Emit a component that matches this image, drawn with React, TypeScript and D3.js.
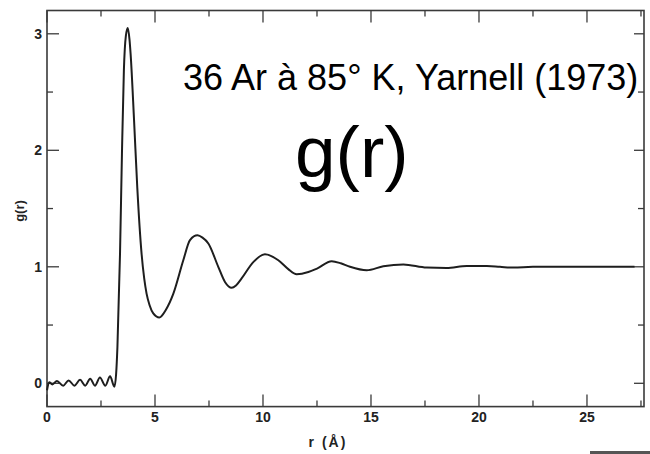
import React from "react";
import * as d3 from "d3";

// r (Å) values
const rValues = [
  0.0, 0.1, 0.25, 0.46, 0.75, 1.0, 1.27, 1.53, 1.77, 2.0, 2.22, 2.45, 2.7, 2.92, 3.12,
  3.2, 3.26, 3.38, 3.47, 3.56, 3.65, 3.74, 3.82, 3.87, 4.03, 4.18, 4.38, 4.5, 4.61, 4.75,
  4.92, 5.2, 5.5, 5.85, 6.31, 6.62, 6.97, 7.2, 7.47, 7.93, 8.24, 8.55, 8.75, 9.01, 9.55,
  10.09, 10.71, 11.17, 11.56, 12.1, 12.5, 13.18, 13.6, 14.03, 14.8, 15.57, 16.5, 17.58,
  18.5, 19.43, 20.36, 20.97, 21.6, 22.5, 24.0, 25.5, 27.2,
];
// g(r) values
const gValues = [
  -0.06, 0.01, -0.01, 0.02, -0.02, 0.025, -0.02, 0.03, -0.02, 0.04, -0.02, 0.05, -0.02, 0.06, -0.03,
  0.08, 0.31, 1.11, 1.97, 2.69, 2.98, 3.05, 2.95, 2.83, 2.26, 1.68, 1.11, 0.9, 0.77, 0.67,
  0.6, 0.565, 0.63, 0.77, 1.056, 1.23, 1.27, 1.25, 1.2, 1.0, 0.87, 0.82, 0.84, 0.9, 1.04,
  1.107, 1.056, 0.98, 0.936, 0.955, 0.985, 1.047, 1.03, 1.0, 0.97, 1.004, 1.02, 0.993,
  0.99, 1.007, 1.007, 1.0, 0.993, 1.0, 1.0, 1.0, 1.0,
];

const xMajorTicks = [0, 5, 10, 15, 20, 25];
const xMinorTicks = [2.5, 7.5, 12.5, 17.5, 22.5, 27.5];
const yMajorTicks = [0, 1, 2, 3];
const yMinorTicks = [0.5, 1.5, 2.5];

const titleText = "36 Ar à 85° K, Yarnell (1973)";
const bigLabel = "g(r)";
const xTitle = "r (Å)";
const yTitle = "g(r)";

export default function App() {
  const W = 650;
  const H = 454;
  const left = 47;
  const right = 644;
  const top = 10.5;
  const bottom = 406.6;

  const x = d3.scaleLinear().domain([0, 27.64]).range([left, right]);
  const y = d3.scaleLinear().domain([-0.2, 3.2]).range([bottom, top]);

  const pts: [number, number][] = rValues.map((r, i) => [r, gValues[i]]);
  const line = d3
    .line<[number, number]>()
    .x((d) => x(d[0]))
    .y((d) => y(d[1]))
    .curve(d3.curveMonotoneX);

  const axisColor = "#3a3a3a";
  const tickFont = "'Liberation Sans', Arial, sans-serif";

  return (
    <svg
      width={W}
      height={H}
      style={{ position: "fixed", left: 0, top: 0, background: "#fff" }}
    >
      <rect x={0} y={0} width={W} height={H} fill="#fff" />
      {/* frame */}
      <rect
        x={left}
        y={top}
        width={right - left}
        height={bottom - top}
        fill="none"
        stroke={axisColor}
        strokeWidth={1.6}
      />
      {/* x ticks bottom & top */}
      {xMajorTicks.map((t) => (
        <g key={"xM" + t}>
          <line x1={x(t)} x2={x(t)} y1={bottom} y2={bottom - 12} stroke={axisColor} strokeWidth={1.3} />
          <line x1={x(t)} x2={x(t)} y1={top} y2={top + 12} stroke={axisColor} strokeWidth={1.3} />
          <text
            x={x(t)}
            y={bottom + 15.5}
            textAnchor="middle"
            fontFamily={tickFont}
            fontWeight="bold"
            fontSize={14}
            fill="#222"
          >
            {t}
          </text>
        </g>
      ))}
      {xMinorTicks.map((t) => (
        <g key={"xm" + t}>
          <line x1={x(t)} x2={x(t)} y1={bottom} y2={bottom - 6} stroke={axisColor} strokeWidth={1.3} />
          <line x1={x(t)} x2={x(t)} y1={top} y2={top + 6} stroke={axisColor} strokeWidth={1.3} />
        </g>
      ))}
      {/* y ticks left & right */}
      {yMajorTicks.map((t) => (
        <g key={"yM" + t}>
          <line x1={left} x2={left + 12} y1={y(t)} y2={y(t)} stroke={axisColor} strokeWidth={1.3} />
          <line x1={right} x2={right - 10} y1={y(t)} y2={y(t)} stroke={axisColor} strokeWidth={1.3} />
          <text
            x={left - 5}
            y={y(t) + 5}
            textAnchor="end"
            fontFamily={tickFont}
            fontWeight="bold"
            fontSize={14}
            fill="#222"
          >
            {t}
          </text>
        </g>
      ))}
      {yMinorTicks.map((t) => (
        <g key={"ym" + t}>
          <line x1={left} x2={left + 6} y1={y(t)} y2={y(t)} stroke={axisColor} strokeWidth={1.3} />
          <line x1={right} x2={right - 6} y1={y(t)} y2={y(t)} stroke={axisColor} strokeWidth={1.3} />
        </g>
      ))}
      {/* axis titles */}
      <text
        x={328}
        y={447}
        textAnchor="middle"
        fontFamily={tickFont}
        fontWeight="bold"
        fontSize={14}
        letterSpacing={2}
        fill="#222"
      >
        {xTitle}
      </text>
      <text
        transform={`translate(24, 211) rotate(-90)`}
        textAnchor="middle"
        fontFamily={tickFont}
        fontWeight="bold"
        fontSize={13}
        fill="#222"
      >
        {yTitle}
      </text>
      {/* curve */}
      <path d={line(pts) || ""} fill="none" stroke="#1e1e1e" strokeWidth={2} strokeLinejoin="round" />
      {/* annotations */}
      <text x={183} y={90} fontFamily={tickFont} fontSize={36} fill="#000">
        {titleText}
      </text>
      <text x={295} y={177} fontFamily={tickFont} fontSize={73} fill="#000">
        {bigLabel}
      </text>
      <rect x={590} y={451} width={60} height={3} fill="#555" />
    </svg>
  );
}
